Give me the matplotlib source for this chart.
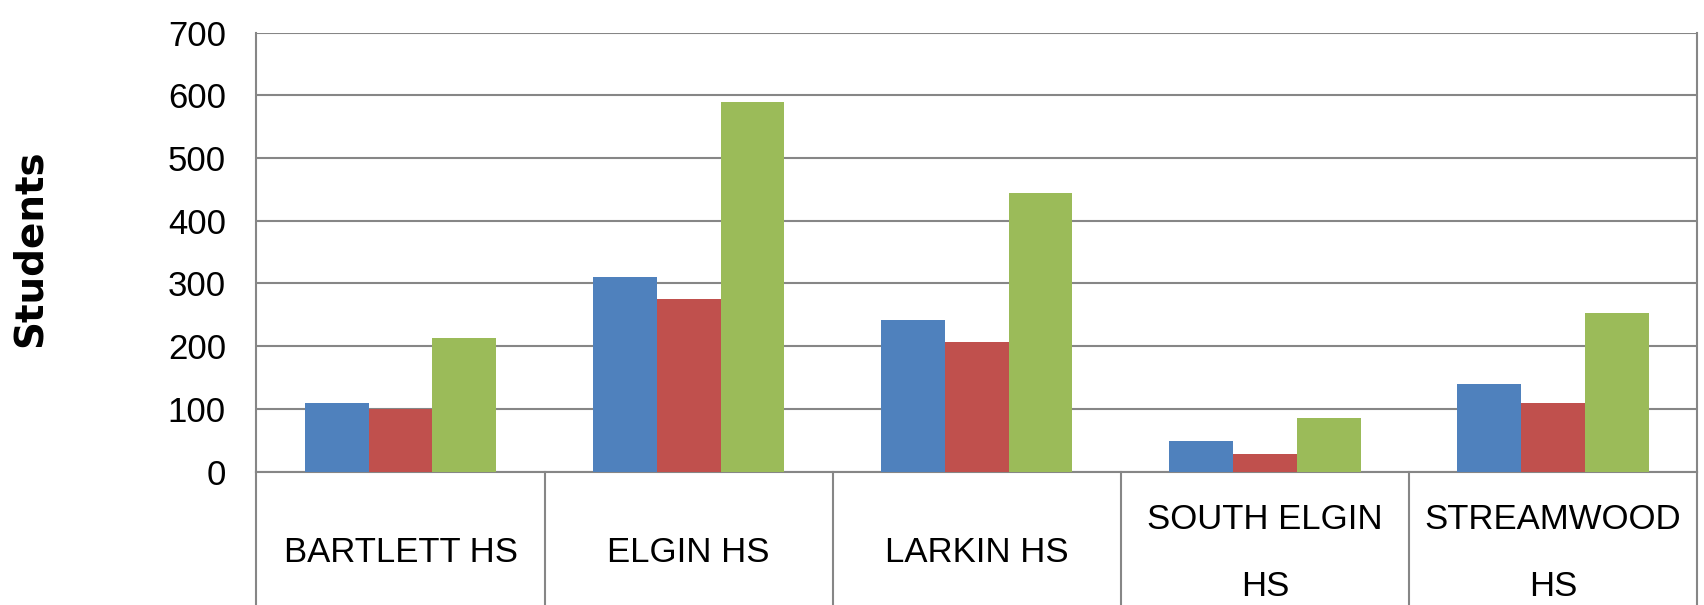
import numpy as np
import matplotlib.pyplot as plt

schools = ["BARTLETT HS", "ELGIN HS", "LARKIN HS", "SOUTH ELGIN\nHS", "STREAMWOOD\nHS"]
blue_vals = [109, 310, 241, 48, 140]
red_vals = [100, 275, 206, 28, 109]
green_vals = [213, 589, 445, 85, 253]
yticks = [0, 100, 200, 300, 400, 500, 600, 700]

narrow = ["Liberation Sans", "DejaVu Sans"]

fig = plt.figure(figsize=(17.04, 6.05), dpi=100)
ax = fig.add_axes([0.1505, 0.2205, 0.8454, 0.7255])

x = np.arange(len(schools))
w = 0.2214
ax.bar(x - w, blue_vals, w, color="#4F81BD", zorder=3)
ax.bar(x, red_vals, w, color="#C0504D", zorder=3)
ax.bar(x + w, green_vals, w, color="#9BBB59", zorder=3)

ax.set_xlim(-0.5, len(schools) - 0.5)
ax.set_ylim(0, 700)
ax.set_yticks(yticks)
ax.set_yticklabels([str(v) for v in yticks], family=narrow, fontsize=25)
ax.tick_params(axis="y", length=0, pad=22)
ax.set_xticks([])
ax.yaxis.grid(True, color="#868686", linewidth=1.5, zorder=0)

ax.spines["top"].set_visible(False)
for s in ["left", "right", "bottom"]:
    ax.spines[s].set_color("#868686")
    ax.spines[s].set_linewidth(1.5)

# category boxes below the axis
for b in np.arange(-0.5, len(schools), 1.0):
    ax.plot([b, b], [0, -0.4], transform=ax.get_xaxis_transform(),
            color="#868686", linewidth=1.5, clip_on=False)

for i, name in enumerate(schools):
    ax.text(i, -0.185, name, transform=ax.get_xaxis_transform(),
            ha="center", va="center", multialignment="center",
            family=narrow, fontsize=25, linespacing=2.3)

fig.text(0.0176, 0.59, "Students", rotation=90, ha="center", va="center",
         fontsize=28, fontweight="bold", family="DejaVu Sans")

fig.savefig("out.png", dpi=100)
